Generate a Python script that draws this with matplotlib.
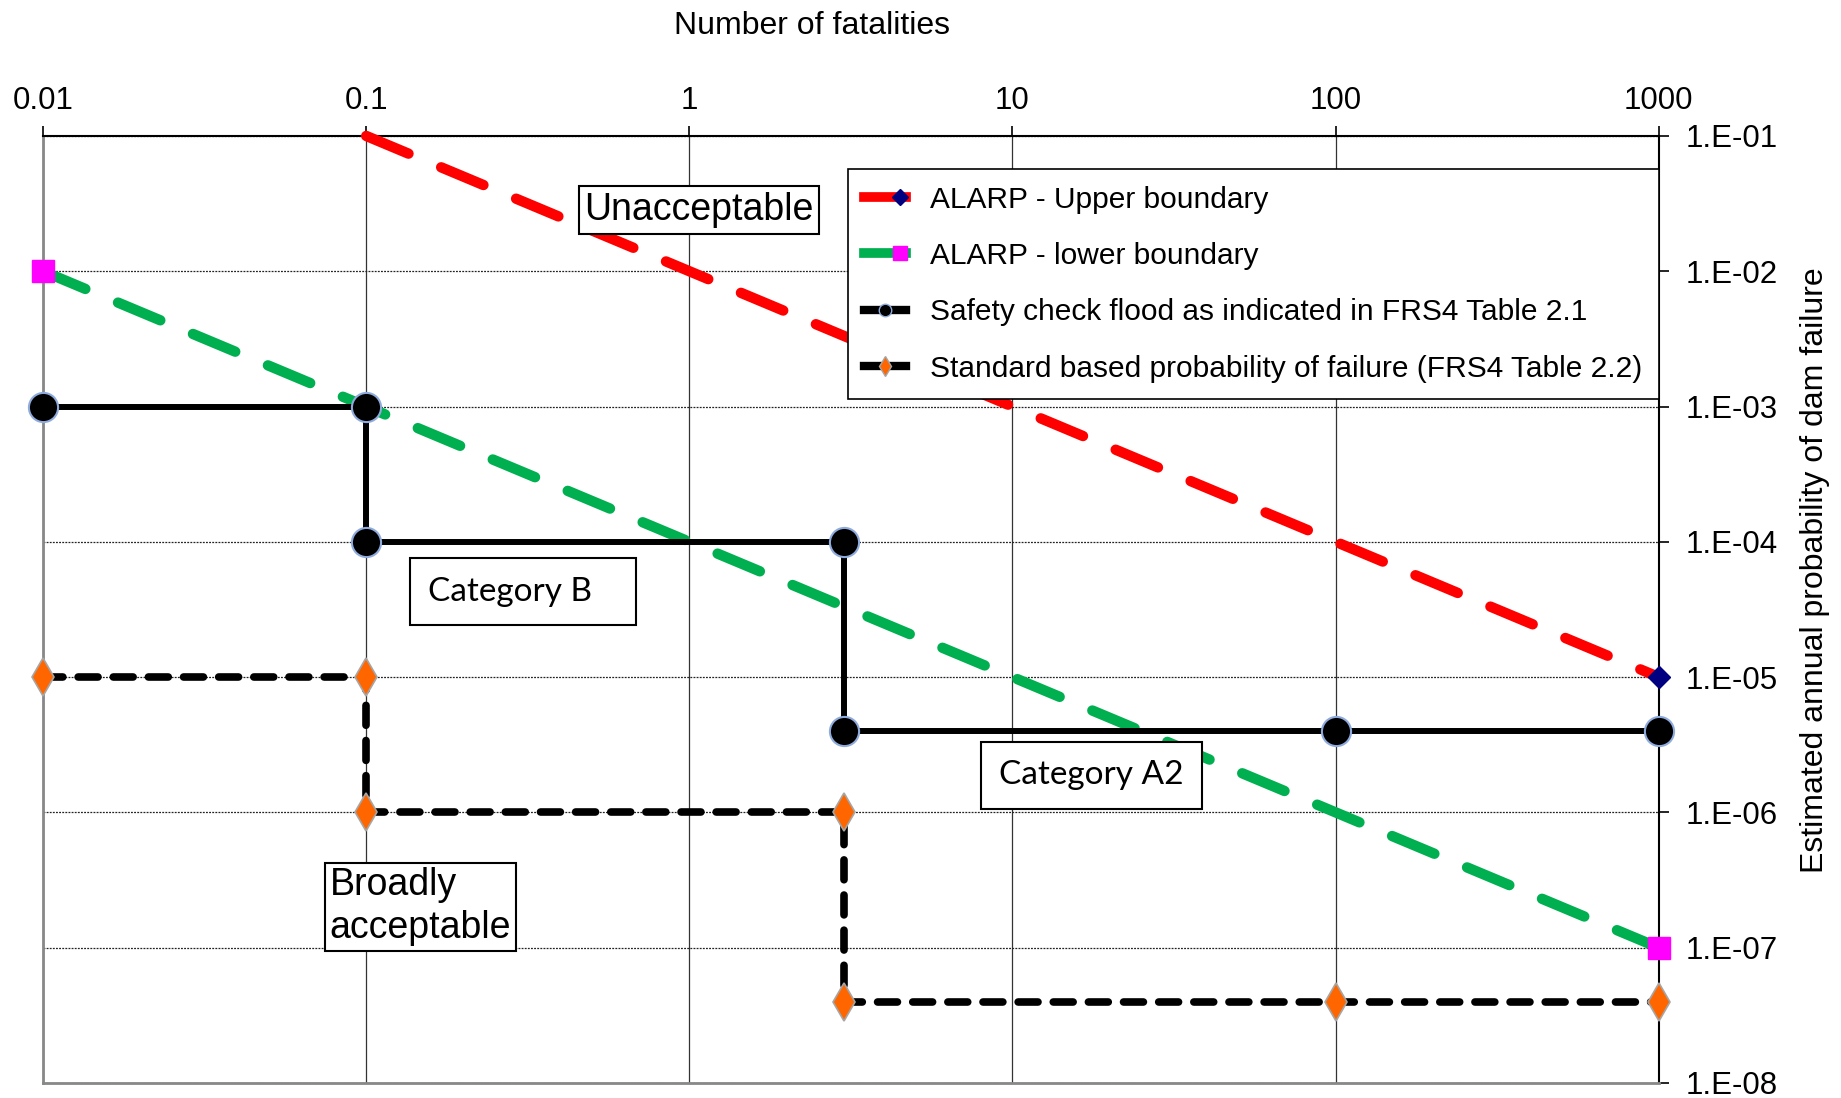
import numpy as np
import matplotlib
matplotlib.use('Agg')
import matplotlib.pyplot as plt
from matplotlib.lines import Line2D
from matplotlib.legend_handler import HandlerLine2DCompound
from matplotlib.ticker import FixedLocator, FuncFormatter, NullLocator

plt.rcParams['font.family'] = ['Liberation Sans', 'DejaVu Sans']

## data (x = number of fatalities, y = annual probability)
upper_x = [0.1, 1000]
upper_y = [1e-1, 1e-5]

lower_x = [0.01, 1000]
lower_y = [1e-2, 1e-7]

safety_x = [0.01, 0.1, 0.1, 3, 3, 100, 1000]
safety_y = [1e-3, 1e-3, 1e-4, 1e-4, 4e-6, 4e-6, 4e-6]

standard_x = [0.01, 0.1, 0.1, 3, 3, 100, 1000]
standard_y = [1e-5, 1e-5, 1e-6, 1e-6, 4e-8, 4e-8, 4e-8]

x_ticks = [0.01, 0.1, 1, 10, 100, 1000]
x_tick_labels = ['0.01', '0.1', '1', '10', '100', '1000']
y_ticks = [1e-8, 1e-7, 1e-6, 1e-5, 1e-4, 1e-3, 1e-2, 1e-1]

labels = ['ALARP - Upper boundary',
          'ALARP - lower boundary',
          'Safety check flood as indicated in FRS4 Table 2.1',
          'Standard based probability of failure (FRS4 Table 2.2)']


## legend handler that puts the marker near the right end of the line
class MarkerRight(HandlerLine2DCompound):
    def get_xdata(self, legend, xdescent, ydescent, width, height, fontsize):
        xdata, _ = super().get_xdata(legend, xdescent, ydescent, width, height, fontsize)
        return xdata, [-xdescent + 0.85 * width]


#######
## Plotting
#######
fig = plt.figure(figsize=(18.41, 10.98), dpi=100)
ax = fig.add_axes([0.0234, 0.0137, 0.8776, 0.8625])

ax.set_xscale('log')
ax.set_yscale('log')
ax.set_xlim(0.01, 1000)
ax.set_ylim(1e-8, 1e-1)

# grid
for xv in x_ticks:
    ax.axvline(xv, color='#333333', lw=0.9, zorder=1)
for yv in y_ticks:
    ax.axhline(yv, color='#222222', lw=0.9, ls=(0, (1.5, 1.0)), zorder=1)

ax.plot(upper_x, upper_y, color='#ff0000', lw=7.5, dashes=(4.4, 3.4),
        dash_capstyle='round', marker='D', markevery=[1], ms=11,
        mfc='#000080', mec='#000080', zorder=3, clip_on=False)
ax.plot(lower_x, lower_y, color='#00b050', lw=7.5, dashes=(4.4, 3.4),
        dash_capstyle='round', marker='s', ms=16, mfc='#ff00ff',
        mec='#ff00ff', zorder=3, clip_on=False)
ax.plot(safety_x, safety_y, color='black', lw=4.3, marker='o', ms=21,
        mfc='black', mec='#8faadc', mew=1.5, zorder=4, clip_on=False)
ax.plot(standard_x, standard_y, color='black', lw=5.5, dashes=(2.6, 2.0),
        dash_capstyle='round', marker='d', ms=19, mfc='#ff6600',
        mec='#a6a6a6', mew=1.2, zorder=4, clip_on=False)

# axes on top / right
ax.xaxis.tick_top()
ax.xaxis.set_label_position('top')
ax.yaxis.tick_right()
ax.yaxis.set_label_position('right')
ax.xaxis.set_major_locator(FixedLocator(x_ticks))
ax.xaxis.set_minor_locator(NullLocator())
ax.set_xticklabels(x_tick_labels)
ax.yaxis.set_major_locator(FixedLocator(y_ticks))
ax.yaxis.set_minor_locator(NullLocator())
ax.yaxis.set_major_formatter(FuncFormatter(lambda v, p: '1.E-%02d' % int(round(-np.log10(v)))))
ax.tick_params(axis='both', labelsize=22.5, length=7, width=1.2, color='black', direction='out')
ax.tick_params(axis='x', pad=7)
ax.tick_params(axis='y', pad=12)

for s in ['top', 'right']:
    ax.spines[s].set_color('black')
    ax.spines[s].set_linewidth(1.5)
for s in ['left', 'bottom']:
    ax.spines[s].set_color('#888888')
    ax.spines[s].set_linewidth(2)

ax.set_xlabel('Number of fatalities', fontsize=23)
ax.xaxis.set_label_coords(0.476, 1.108)
ax.set_ylabel('Estimated annual probability of dam failure', fontsize=23)
ax.yaxis.set_label_coords(1.0875, 0.541)

# legend with solid proxy handles, like the spreadsheet legend
h_upper = Line2D([], [], color='#ff0000', lw=7, marker='D', ms=8, mfc='#000080', mec='#000080')
h_lower = Line2D([], [], color='#00b050', lw=7, marker='s', ms=10, mfc='#ff00ff', mec='#ff00ff')
h_safety = Line2D([], [], color='black', lw=6, marker='o', ms=9, mfc='black', mec='#8faadc')
h_standard = Line2D([], [], color='black', lw=6, marker='d', ms=10, mfc='#ff6600', mec='#a6a6a6')
leg = ax.legend([h_upper, h_lower, h_safety, h_standard], labels,
                handler_map={h_upper: MarkerRight(), h_lower: MarkerRight()},
                loc='upper right', bbox_to_anchor=(1.0, 0.965), borderaxespad=0,
                fancybox=False, edgecolor='black', framealpha=1, fontsize=21.5,
                handlelength=1.4, handletextpad=0.8, labelspacing=0.95,
                borderpad=0.55, numpoints=1)
leg.get_frame().set_linewidth(1.2)
leg.set_zorder(6)

ax.text(1.07, 0.0284, 'Unacceptable', fontsize=27, ha='center', va='center',
        bbox=dict(boxstyle='square,pad=0.15', fc='white', ec='black', lw=1.5), zorder=5)
ax.text(0.147, 2.0e-7, 'Broadly\nacceptable', fontsize=27, ha='center', va='center',
        multialignment='left', linespacing=1.25,
        bbox=dict(boxstyle='square,pad=0.12', fc='white', ec='black', lw=1.5), zorder=5)
box2 = dict(boxstyle='square,pad=0.55', fc='white', ec='black', lw=1.5)
ax.text(0.306, 4.27e-5, 'Category B   ', fontsize=24, family=['Lato', 'Liberation Sans'],
        ha='center', va='center', bbox=box2, zorder=5)
ax.text(17.6, 1.88e-6, 'Category A2', fontsize=24, family=['Lato', 'Liberation Sans'],
        ha='center', va='center', bbox=box2, zorder=5)

plt.savefig('out.png', dpi=100)
